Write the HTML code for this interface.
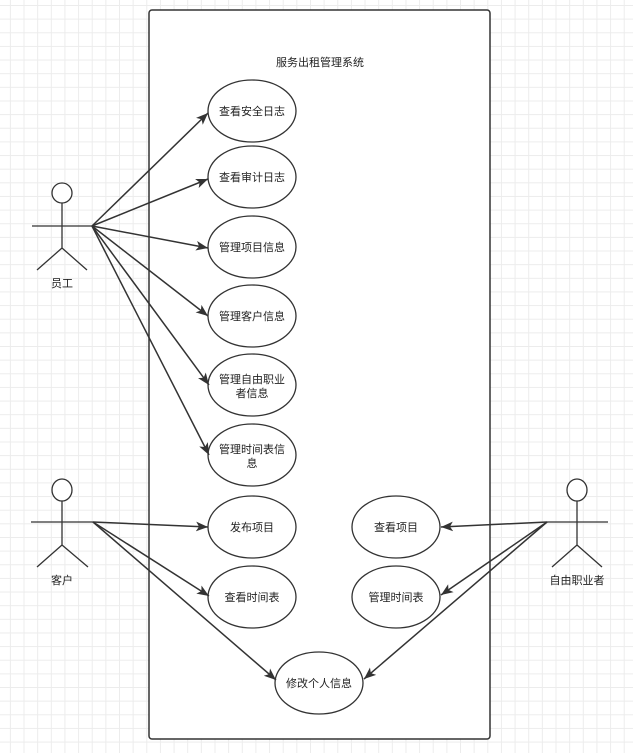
<!DOCTYPE html>
<html><head><meta charset="utf-8"><style>
html,body{margin:0;padding:0;}
body{width:633px;height:753px;overflow:hidden;background:#fff;
background-image:linear-gradient(#ececec 1px,transparent 1px),linear-gradient(90deg,#ececec 1px,transparent 1px);
background-size:13.65px 13.65px;background-position:9.9px 5px;}
svg{position:absolute;left:0;top:0;}
text{font-family:"Liberation Sans","Noto Sans CJK SC",sans-serif;font-size:11px;fill:#222;text-anchor:middle;}
</style></head><body>
<svg width="633" height="753" viewBox="0 0 633 753">
<defs><marker id="a" viewBox="0 0 10 10" refX="10" refY="5" markerWidth="12" markerHeight="12" orient="auto" markerUnits="userSpaceOnUse"><path d="M0,1 L10,5 L0,9 L2.5,5z" fill="#333"/></marker></defs>
<rect x="149" y="10" width="341" height="729" rx="3" fill="#fff" stroke="#333" stroke-width="1.5"/>
<text x="320" y="66">服务出租管理系统</text>
<g fill="#fff" stroke="#333" stroke-width="1.3">
<ellipse cx="252" cy="111" rx="44" ry="31"/>
<ellipse cx="252" cy="177" rx="44" ry="31"/>
<ellipse cx="252" cy="247" rx="44" ry="31"/>
<ellipse cx="252" cy="316" rx="44" ry="31"/>
<ellipse cx="252" cy="385" rx="44" ry="31"/>
<ellipse cx="252" cy="455" rx="44" ry="31"/>
<ellipse cx="252" cy="527" rx="44" ry="31"/>
<ellipse cx="252" cy="597" rx="44" ry="31"/>
<ellipse cx="396" cy="527" rx="44" ry="31"/>
<ellipse cx="396" cy="597" rx="44" ry="31"/>
<ellipse cx="319" cy="683" rx="44" ry="31"/>
</g>
<text x="252" y="115">查看安全日志</text>
<text x="252" y="181">查看审计日志</text>
<text x="252" y="251">管理项目信息</text>
<text x="252" y="320">管理客户信息</text>
<text x="252" y="383">管理自由职业</text>
<text x="252" y="397">者信息</text>
<text x="252" y="453">管理时间表信</text>
<text x="252" y="467">息</text>
<text x="252" y="531">发布项目</text>
<text x="252" y="601">查看时间表</text>
<text x="396" y="531">查看项目</text>
<text x="396" y="601">管理时间表</text>
<text x="319" y="687">修改个人信息</text>
<g stroke="#333" stroke-width="1.5" fill="none" marker-end="url(#a)">
<path d="M92,226 L208,113"/>
<path d="M92,226 L208,179"/>
<path d="M92,226 L208,248"/>
<path d="M92,226 L208,316"/>
<path d="M92,226 L209,385"/>
<path d="M92,226 L209,455"/>
<path d="M93,522 L208,527"/>
<path d="M93,522 L209,596"/>
<path d="M93,522 L276,680"/>
<path d="M547,522 L441,527"/>
<path d="M547,522 L441,595"/>
<path d="M547,522 L364,679"/>
</g>
<g stroke="#333" stroke-width="1.3" fill="#fff">
<ellipse cx="62" cy="193" rx="10" ry="10"/>
<path d="M62,203 V248 M32,226 H92 M37,270 L62,248 L87,270" fill="none"/>
<ellipse cx="62" cy="490" rx="10" ry="11"/>
<path d="M62,501 V545 M31,522 H93 M37,567 L62,545 L88,567" fill="none"/>
<ellipse cx="577" cy="490" rx="10" ry="11"/>
<path d="M577,501 V545 M547,522 H608 M552,567 L577,545 L602,567" fill="none"/>
</g>
<text x="62" y="287">员工</text>
<text x="62" y="584">客户</text>
<text x="577" y="584">自由职业者</text>
</svg>
</body></html>
